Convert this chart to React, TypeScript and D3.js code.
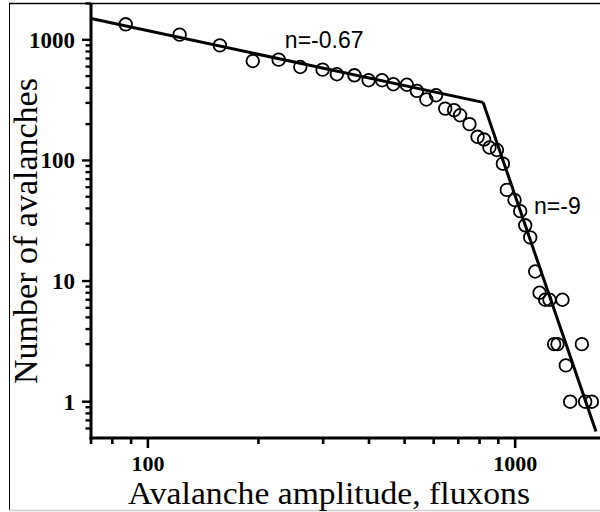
import React, { useEffect, useRef } from 'react';
import * as d3 from 'd3';

// avalanche amplitude (fluxons) and number of avalanches
const amplitudes = [87, 122, 157, 193, 227, 260, 299, 327, 365, 399, 434, 466, 507, 540, 573, 609, 645, 682, 708, 751, 790, 823, 851, 892, 926, 949, 996, 1032, 1065, 1099, 1134, 1165, 1207, 1240, 1345, 1277, 1304, 1519, 1374, 1412, 1551, 1617];
const counts = [1344, 1104, 900, 667, 685, 595, 566, 518, 508, 462, 462, 428, 424, 377, 320, 347, 269, 261, 237, 200, 157, 149, 128, 122, 94, 57, 47, 38, 29, 23, 12, 8, 7, 7, 7, 3, 3, 3, 2, 1, 1, 1];

// two power-law fits: [amplitude, count]
const fitShallow: [number, number][] = [[70, 1500], [818, 303]];
const fitSteep: [number, number][] = [[818, 303], [1660, 0.565]];

const xTicksMinor = [70, 80, 90, 100, 200, 300, 400, 500, 600, 700, 800, 900, 1000];
const xTickLabels = [100, 1000];
const yTicksMinor = [0.6, 0.7, 0.8, 0.9, 1, 2, 3, 4, 5, 6, 7, 8, 9, 10, 20, 30, 40, 50, 60, 70, 80, 90, 100, 200, 300, 400, 500, 600, 700, 800, 900, 1000, 2000];
const yTickLabels = [1, 10, 100, 1000];

const annotations = [
  { text: 'n=-0.67', x: 236, y: 850 },
  { text: 'n=-9', x: 1126, y: 36 },
];

const App = () => {
  const svgRef = useRef<SVGSVGElement>(null);

  useEffect(() => {
    const width = 600;
    const height = 512;
    const margin = { top: 3.5, right: 0, bottom: 74, left: 91 };

    const svg = d3.select(svgRef.current);
    svg.selectAll('*').remove();
    svg.attr('width', width).attr('height', height);

    svg.append('rect').attr('width', width).attr('height', height).attr('fill', '#ffffff');

    // outer frame of the figure
    svg.append('line').attr('x1', 9).attr('x2', width).attr('y1', 3.5).attr('y2', 3.5)
      .attr('stroke', '#000').attr('stroke-width', 1.5);
    svg.append('line').attr('x1', 9.5).attr('x2', 9.5).attr('y1', 3).attr('y2', 511)
      .attr('stroke', '#000').attr('stroke-width', 1);
    svg.append('line').attr('x1', 9).attr('x2', width).attr('y1', 510.5).attr('y2', 510.5)
      .attr('stroke', '#cfcfcf').attr('stroke-width', 1.5);

    const x = d3.scaleLog().domain([70, 1700]).range([margin.left, margin.left + 508.8]);
    const y = d3.scaleLog().domain([0.5, 2000]).range([height - margin.bottom, margin.top]);
    const x0 = margin.left;
    const y0 = height - margin.bottom;

    const g = svg.append('g');

    // fitted lines
    const line = d3.line<[number, number]>().x(d => x(d[0])).y(d => y(d[1]));
    [fitShallow, fitSteep].forEach(seg => {
      g.append('path').datum(seg).attr('d', line)
        .attr('fill', 'none').attr('stroke', '#000').attr('stroke-width', 3)
        .attr('stroke-linejoin', 'miter');
    });

    // data points, open circles
    g.selectAll('circle')
      .data(amplitudes.map((a, i) => [a, counts[i]]))
      .enter()
      .append('circle')
      .attr('cx', d => x(d[0]))
      .attr('cy', d => y(d[1]))
      .attr('r', 6.3)
      .attr('fill', 'none')
      .attr('stroke', '#000')
      .attr('stroke-width', 1.8);

    // axes
    const axis = svg.append('g');
    axis.append('line').attr('x1', x0).attr('x2', x0).attr('y1', margin.top).attr('y2', y0 + 1.5)
      .attr('stroke', '#000').attr('stroke-width', 3);
    axis.append('line').attr('x1', x0 - 1.5).attr('x2', width).attr('y1', y0).attr('y2', y0)
      .attr('stroke', '#000').attr('stroke-width', 3);

    xTicksMinor.forEach(t => {
      const major = xTickLabels.includes(t);
      axis.append('line').attr('x1', x(t)).attr('x2', x(t))
        .attr('y1', y0).attr('y2', y0 + (major ? 10 : 6))
        .attr('stroke', '#000').attr('stroke-width', 2.6);
    });
    yTicksMinor.forEach(t => {
      const major = yTickLabels.includes(t);
      axis.append('line').attr('x1', x0).attr('x2', x0 - (major ? 9 : 5.5))
        .attr('y1', y(t)).attr('y2', y(t))
        .attr('stroke', '#000').attr('stroke-width', 2.4);
    });

    const tickFont = '"Liberation Serif", "Times New Roman", serif';
    axis.selectAll('text.xl')
      .data(xTickLabels)
      .enter()
      .append('text')
      .attr('x', d => x(d))
      .attr('y', y0 + 33)
      .attr('text-anchor', 'middle')
      .style('font-family', tickFont)
      .style('font-weight', 'bold')
      .style('font-size', '22px')
      .text(d => d);

    axis.selectAll('text.yl')
      .data(yTickLabels)
      .enter()
      .append('text')
      .attr('x', x0 - 16)
      .attr('y', d => y(d) + 8)
      .attr('text-anchor', 'end')
      .style('font-family', tickFont)
      .style('font-weight', 'bold')
      .style('font-size', '23px')
      .text(d => d);

    // axis titles
    svg.append('text')
      .attr('x', 329)
      .attr('y', 504)
      .attr('text-anchor', 'middle')
      .attr('textLength', 402)
      .attr('lengthAdjust', 'spacingAndGlyphs')
      .style('font-family', tickFont)
      .style('font-size', '32px')
      .text('Avalanche amplitude, fluxons');

    svg.append('text')
      .attr('transform', 'translate(37,231) rotate(-90)')
      .attr('text-anchor', 'middle')
      .style('font-family', tickFont)
      .style('font-size', '34px')
      .text('Number of avalanches');

    // slope annotations
    svg.selectAll('text.ann')
      .data(annotations)
      .enter()
      .append('text')
      .attr('x', d => x(d.x))
      .attr('y', d => y(d.y))
      .style('font-family', '"Liberation Sans", Arial, sans-serif')
      .style('font-size', '23px')
      .text(d => d.text);
  }, []);

  return (
    <div style={{ position: 'absolute', left: 0, top: 0, width: 600, height: 512 }}>
      <svg ref={svgRef} style={{ display: 'block' }} />
    </div>
  );
};

export default App;
